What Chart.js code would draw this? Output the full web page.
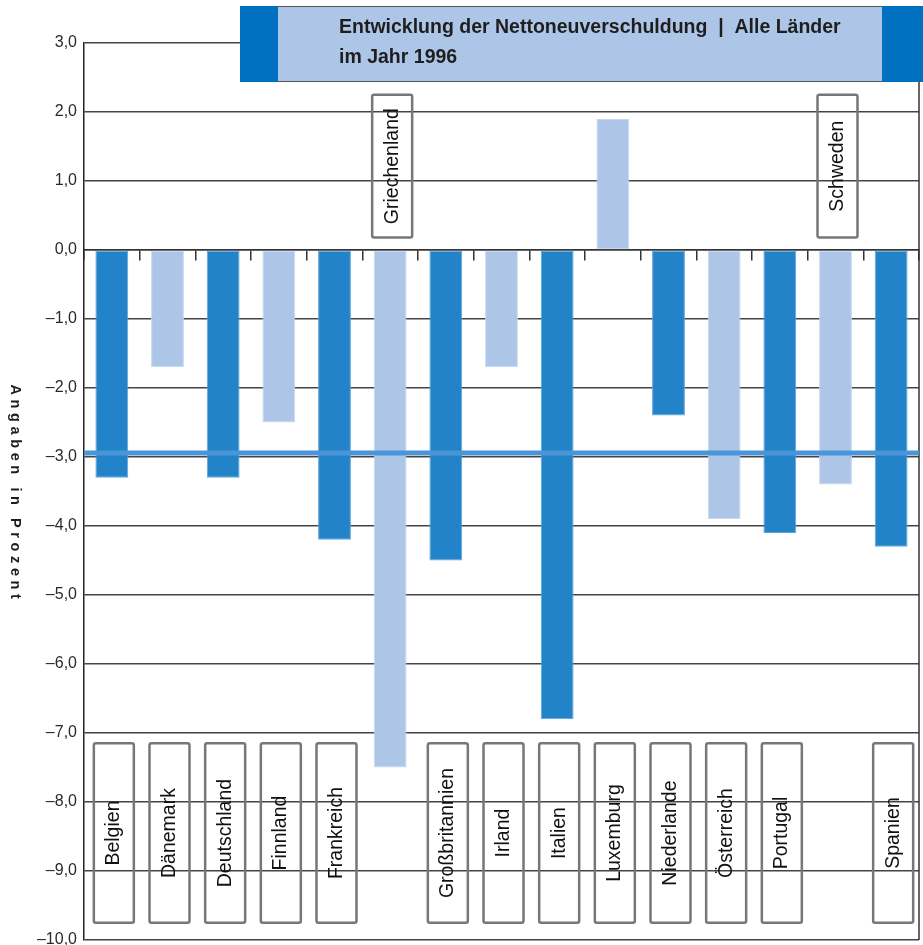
<!DOCTYPE html>
<html lang="de">
<head>
<meta charset="utf-8">
<title>Nettoneuverschuldung 1996</title>
<script src="https://cdn.jsdelivr.net/npm/chart.js@4.4.1/dist/chart.umd.min.js"></script>
<style>
  html, body { margin: 0; padding: 0; background: #fff; }
  canvas { display: block; }
</style>
</head>
<body>
<canvas id="chart1" width="923" height="945"></canvas>
<script>
// Nettoneuverschuldung 1996 in Prozent des BIP
const laender = ['Belgien', 'Dänemark', 'Deutschland', 'Finnland', 'Frankreich', 'Griechenland',
    'Großbritannien', 'Irland', 'Italien', 'Luxemburg', 'Niederlande', 'Österreich',
    'Portugal', 'Schweden', 'Spanien'];
const werte = [-3.3, -1.7, -3.3, -2.5, -4.2, -7.5, -4.5, -1.7, -6.8, 1.9, -2.4, -3.9, -4.1, -3.4, -4.3];

// Länder, deren Namensschild oben statt unten steht
const schildOben = ['Griechenland', 'Schweden'];
// Lage der Namensschilder auf der Werteachse
const schildUnten = [-7.15, -9.75];
const schildObenBereich = [2.25, 0.18];

const grenzwert = -3.0;
const yMin = -10;
const yMax = 3;

const titelZeilen = ['Entwicklung der Nettoneuverschuldung  |  Alle Länder', 'im Jahr 1996'];
const achsenTitel = 'Angaben in Prozent';

const dunkel = '#2383c8';
const hell = '#adc6e8';
const balkenFarben = werte.map((v, i) => i % 2 === 0 ? dunkel : hell);
const randFarben = werte.map((v, i) => i % 2 === 0 ? '#5fa3dd' : '#c6d8ef');

const FONT = '"Liberation Sans", Arial, sans-serif';

function formatWert(v) {
    return v.toFixed(1).replace('.', ',').replace('-', '\u2013');
}

// Extras: Grenzlinie, Namensschilder, Titelkasten, Achsentitel
const extras = {
    id: 'extras',
    afterDatasetsDraw(chart) {
        const ctx = chart.ctx;
        const x = chart.scales.x;
        const y = chart.scales.y;
        const area = chart.chartArea;
        ctx.save();

        // rechter Rahmen
        ctx.strokeStyle = '#333';
        ctx.lineWidth = 1.5;
        ctx.beginPath();
        ctx.moveTo(area.right, area.top);
        ctx.lineTo(area.right, area.bottom);
        ctx.stroke();

        // 3-Prozent-Grenze
        const gy = y.getPixelForValue(grenzwert) - 4;
        ctx.strokeStyle = '#4a95d8';
        ctx.lineWidth = 5;
        ctx.beginPath();
        ctx.moveTo(area.left, gy);
        ctx.lineTo(area.right, gy);
        ctx.stroke();

        // Namensschilder
        laender.forEach((name, i) => {
            const cx = x.getPixelForValue(i) + 2;
            const bereich = schildOben.includes(name) ? schildObenBereich : schildUnten;
            const top = y.getPixelForValue(bereich[0]);
            const bottom = y.getPixelForValue(bereich[1]);
            ctx.strokeStyle = '#777';
            ctx.lineWidth = 2.5;
            ctx.beginPath();
            ctx.roundRect(cx - 20, top, 40, bottom - top, 2);
            ctx.stroke();

            ctx.save();
            ctx.translate(cx, (top + bottom) / 2);
            ctx.rotate(-Math.PI / 2);
            ctx.fillStyle = '#111';
            ctx.font = '19.5px ' + FONT;
            ctx.textAlign = 'center';
            ctx.textBaseline = 'middle';
            ctx.fillText(name, 0, 0);
            ctx.restore();
        });

        // Titelkasten
        ctx.fillStyle = hell;
        ctx.fillRect(240, 6, 683, 76);
        ctx.strokeStyle = '#555';
        ctx.lineWidth = 1;
        ctx.strokeRect(240.5, 6.5, 682, 75);
        ctx.fillStyle = '#0070c0';
        ctx.fillRect(240, 6, 38, 76);
        ctx.fillRect(882, 6, 41, 76);
        ctx.fillStyle = '#1e1e1e';
        ctx.font = 'bold 19.5px ' + FONT;
        ctx.textAlign = 'left';
        ctx.textBaseline = 'alphabetic';
        ctx.fillText(titelZeilen[0], 339, 33);
        ctx.fillText(titelZeilen[1], 339, 63);

        // Achsentitel, von oben nach unten zu lesen
        ctx.save();
        ctx.translate(15, 494);
        ctx.rotate(Math.PI / 2);
        ctx.font = 'bold 14.5px ' + FONT;
        ctx.letterSpacing = '4.6px';
        ctx.fillStyle = '#1e1e1e';
        ctx.textAlign = 'center';
        ctx.textBaseline = 'middle';
        ctx.fillText(achsenTitel, 0, 0);
        ctx.restore();

        ctx.restore();
    }
};

function initializeChart() {
    const ctx = document.getElementById('chart1').getContext('2d');
    new Chart(ctx, {
        type: 'bar',
        data: {
            labels: laender,
            datasets: [{
                data: werte,
                backgroundColor: balkenFarben,
                borderColor: randFarben,
                borderWidth: 1,
                borderSkipped: false,
                barPercentage: 0.59,
                categoryPercentage: 1
            }]
        },
        options: {
            responsive: false,
            animation: false,
            layout: { padding: { top: 43, right: 4, bottom: 5, left: 0 } },
            plugins: {
                legend: { display: false },
                tooltip: { enabled: false }
            },
            scales: {
                x: {
                    type: 'category',
                    position: { y: 0 },
                    offset: true,
                    z: 1,
                    grid: {
                        offset: true,
                        drawOnChartArea: false,
                        drawTicks: true,
                        tickLength: 10,
                        color: '#333',
                        lineWidth: 1.5
                    },
                    border: { display: true, color: '#333', width: 1.5 },
                    ticks: { display: false }
                },
                y: {
                    min: yMin,
                    max: yMax,
                    afterFit(scale) {
                        scale.width = 84;
                        scale.paddingTop = 0;
                        scale.paddingBottom = 0;
                    },
                    ticks: {
                        stepSize: 1,
                        padding: 7,
                        color: '#2a2a2a',
                        font: { family: FONT, size: 16 },
                        callback: (v) => formatWert(v)
                    },
                    grid: {
                        drawTicks: false,
                        color: '#444',
                        lineWidth: 1.5
                    },
                    border: { display: true, color: '#222', width: 1.5 }
                }
            }
        },
        plugins: [extras]
    });
}

window.onload = initializeChart;
</script>
</body>
</html>
